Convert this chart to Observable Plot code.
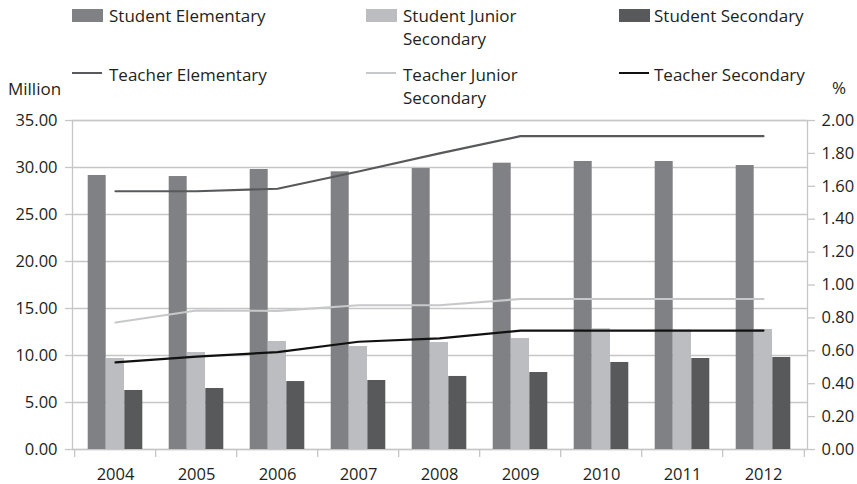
<!DOCTYPE html>
<html><head><meta charset="utf-8">
<script src="https://cdn.jsdelivr.net/npm/d3@7"></script>
<script src="https://cdn.jsdelivr.net/npm/@observablehq/plot@0.6"></script>
<style>
body{margin:0;background:#fff;font-family:"Open Sans",sans-serif;color:#231f20}
#wrap{position:relative;width:857px;height:484px}
#wrap svg{position:absolute;left:0;top:0}
.lg{position:absolute;font-size:17px;line-height:23px;white-space:nowrap;color:#231f20}
.sw{position:absolute;height:13px;width:31px}
.ln{position:absolute;height:2px;width:30px}
</style></head><body><div id="wrap"></div>
<script>
const years = ["2004","2005","2006","2007","2008","2009","2010","2011","2012"];
const studentElementary = [29.15, 29.04, 29.79, 29.54, 29.89, 30.46, 30.64, 30.64, 30.21];
const studentJunior = [9.68, 10.32, 11.49, 10.96, 11.38, 11.81, 12.84, 12.70, 12.77];
const studentSecondary = [6.28, 6.49, 7.23, 7.34, 7.77, 8.19, 9.26, 9.68, 9.79];
const teacherElementary = [1.57, 1.57, 1.585, 1.69, 1.80, 1.905, 1.905, 1.905, 1.905];
const teacherJunior = [0.772, 0.845, 0.843, 0.877, 0.877, 0.915, 0.915, 0.915, 0.915];
const teacherSecondary = [0.53, 0.565, 0.592, 0.655, 0.675, 0.723, 0.723, 0.723, 0.723];
const leftTicks = [0, 5, 10, 15, 20, 25, 30, 35];
const rightTicks = [0, 0.2, 0.4, 0.6, 0.8, 1.0, 1.2, 1.4, 1.6, 1.8, 2.0];

const barSeries = [
  {name: "Student Elementary", values: studentElementary, color: "#808184"},
  {name: "Student Junior\nSecondary", values: studentJunior, color: "#bcbdc0"},
  {name: "Student Secondary", values: studentSecondary, color: "#58595b"}
];
const lineSeries = [
  {name: "Teacher Elementary", values: teacherElementary, color: "#58595b"},
  {name: "Teacher Junior\nSecondary", values: teacherJunior, color: "#c7c8ca"},
  {name: "Teacher Secondary", values: teacherSecondary, color: "#111111"}
];

const ratio = 35 / 2; // right axis (0–2 %) mapped onto left axis (0–35 million)
const W = 857, H = 484, mL = 72, mR = 50, mT = 120, mB = 35;
const step = (W - mL - mR) / years.length;
const bw = 18.3;
const gridColor = "#c6c6c6";

const marks = [
  Plot.gridY(leftTicks, {stroke: gridColor, strokeOpacity: 1, strokeWidth: 1.3}),
  Plot.frame({stroke: gridColor, strokeWidth: 1.3}),
  Plot.axisY(leftTicks, {anchor: "left", tickSize: 7, tickPadding: 8, stroke: gridColor, strokeWidth: 1.3, strokeOpacity: 1, fill: "#231f20", tickFormat: d => d.toFixed(2), label: null}),
  Plot.axisY(rightTicks.map(v => v * ratio), {anchor: "right", tickSize: 7, tickPadding: 7, stroke: gridColor, strokeWidth: 1.3, strokeOpacity: 1, fill: "#231f20", tickFormat: d => (d / ratio).toFixed(2), label: null}),
  Plot.axisX(years, {anchor: "bottom", tickSize: 0, tickPadding: 19, fill: "#231f20", label: null}),
  Plot.ruleX(years, {x: d => d, y1: 0, y2: 0, insetBottom: -8, dx: -step / 2, stroke: gridColor, strokeWidth: 1.3}),
  Plot.ruleX([years[years.length - 1]], {x: d => d, y1: 0, y2: 0, insetBottom: -8, dx: step / 2, stroke: gridColor, strokeWidth: 1.3})
];
barSeries.forEach((s, k) => {
  marks.push(Plot.barY(years, {x: d => d, y: (d, i) => s.values[i], fill: s.color, dx: (k - 1) * bw}));
});
lineSeries.forEach(s => {
  marks.push(Plot.line(years, {x: d => d, y: (d, i) => s.values[i] * ratio, stroke: s.color, strokeWidth: 2.2, curve: "linear"}));
});

const chart = Plot.plot({
  width: W, height: H,
  marginLeft: mL, marginRight: mR, marginTop: mT, marginBottom: mB,
  style: {fontFamily: "Open Sans", fontSize: "16.5px", color: "#231f20", background: "transparent"},
  x: {type: "band", domain: years, paddingInner: 1 - bw / step, paddingOuter: (1 - bw / step) / 2, axis: null},
  y: {domain: [0, 35], axis: null},
  marks
});
const wrap = document.getElementById("wrap");
wrap.appendChild(chart);

// legend
const cols = [72, 366, 619];
function addDiv(cls, css, text) {
  const d = document.createElement("div");
  d.className = cls;
  Object.assign(d.style, css);
  if (text != null) d.innerText = text;
  wrap.appendChild(d);
}
barSeries.forEach((s, k) => {
  addDiv("sw", {left: cols[k] + "px", top: "8.5px", background: s.color});
  addDiv("lg", {left: (cols[k] + (k === 2 ? 35 : 37)) + "px", top: "4px"}, s.name);
});
lineSeries.forEach((s, k) => {
  addDiv("ln", {left: cols[k] + "px", top: "71.5px", background: s.color});
  addDiv("lg", {left: (cols[k] + (k === 2 ? 35 : 37)) + "px", top: "63px"}, s.name);
});
addDiv("lg", {left: "8px", top: "77px"}, "Million");
addDiv("lg", {left: "832px", top: "76px"}, "%");
</script>
</body></html>
